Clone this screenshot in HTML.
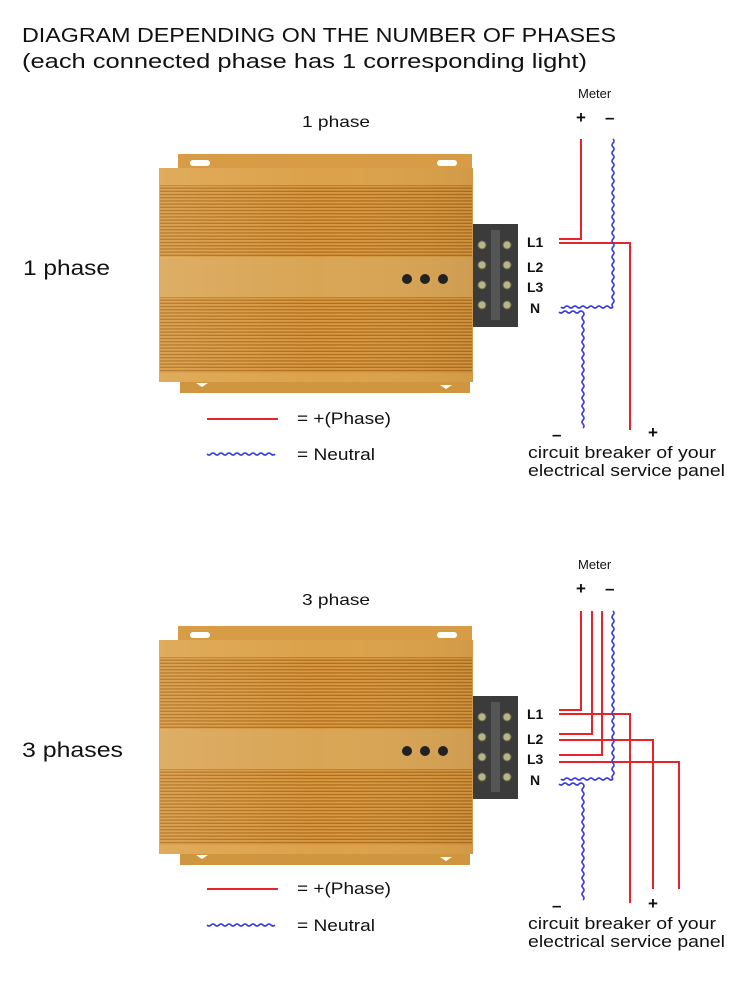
<!DOCTYPE html>
<html><head><meta charset="utf-8"><style>
html,body{margin:0;padding:0;background:#fff;}
svg{display:block;}
text{font-family:"Liberation Sans",Arial,sans-serif;fill:#111;}
</style></head><body>
<svg width="750" height="994" viewBox="0 0 750 994" xmlns="http://www.w3.org/2000/svg">
<defs>
<pattern id="rib" width="8" height="3.2" patternUnits="userSpaceOnUse">
<rect width="8" height="3.2" fill="#d8993f"/>
<rect y="1.9" width="8" height="1.3" fill="#b06f1f"/>
</pattern>
<linearGradient id="shade" x1="0" x2="1" y1="0" y2="0">
<stop offset="0" stop-color="#fff" stop-opacity="0.10"/>
<stop offset="0.5" stop-color="#fff" stop-opacity="0"/>
<stop offset="1" stop-color="#000" stop-opacity="0.05"/>
</linearGradient>
<g id="dev">
<rect x="178" y="154" width="294" height="16" fill="#d79c45"/>
<path d="M193 160 h14 a3 3 0 0 1 0 6 h-14 a3 3 0 0 1 0 -6z" fill="#fff"/>
<path d="M440 160 h14 a3 3 0 0 1 0 6 h-14 a3 3 0 0 1 0 -6z" fill="#fff"/>
<rect x="159" y="168" width="314" height="214" fill="#dca24a"/>
<rect x="160" y="185" width="312" height="72" fill="url(#rib)"/>
<rect x="160" y="297" width="312" height="76" fill="url(#rib)"/>
<rect x="160" y="257" width="312" height="40" fill="#d9a555"/>
<rect x="159" y="168" width="314" height="214" fill="url(#shade)"/>
<rect x="180" y="382" width="290" height="11" fill="#d0963f"/>
<path d="M196 383 h12 l-6 4z" fill="#fff"/>
<path d="M440 385 h12 l-6 4z" fill="#fff"/>
<circle cx="407" cy="279" r="5" fill="#222"/>
<circle cx="425" cy="279" r="5" fill="#222"/>
<circle cx="443" cy="279" r="5" fill="#222"/>
<rect x="473" y="224" width="45" height="103" fill="#3b3b3b"/>
<rect x="491" y="230" width="9" height="90" fill="#555"/>
<g fill="#b7b58a" stroke="#6b6a40" stroke-width="1">
<circle cx="482" cy="245" r="4"/><circle cx="507" cy="245" r="4"/>
<circle cx="482" cy="265" r="4"/><circle cx="507" cy="265" r="4"/>
<circle cx="482" cy="285" r="4"/><circle cx="507" cy="285" r="4"/>
<circle cx="482" cy="305" r="4"/><circle cx="507" cy="305" r="4"/>
</g>
</g>
</defs>

<text x="22" y="42" font-size="20" textLength="594" lengthAdjust="spacingAndGlyphs">DIAGRAM DEPENDING ON THE NUMBER OF PHASES</text>
<text x="22" y="68" font-size="20" textLength="565" lengthAdjust="spacingAndGlyphs">(each connected phase has 1 corresponding light)</text>

<!-- diagram 1 -->
<text x="302" y="127" font-size="16" textLength="68" lengthAdjust="spacingAndGlyphs">1 phase</text>
<use href="#dev"/>
<text x="23" y="275" font-size="21" textLength="87" lengthAdjust="spacingAndGlyphs">1 phase</text>
<text x="578" y="98" font-size="13" fill="#333">Meter</text>
<text x="576" y="123" font-size="17" font-weight="bold">+</text>
<text x="605" y="123" font-size="17" font-weight="bold">–</text>
<g font-size="14" font-weight="bold">
<text x="527" y="247">L1</text><text x="527" y="272">L2</text><text x="527" y="292">L3</text><text x="530" y="313">N</text>
</g>
<g stroke="#e8232a" stroke-width="2" fill="none">
<path d="M581 139 V239 H559"/>
<path d="M559 243 H630 V430"/>
<path d="M207 419 H278"/>
</g>
<g stroke="#3a3ae8" stroke-width="1.6" fill="none">
<path data-w="v" d="M613 139 V307"/>
<path data-w="h" d="M613 307 H559"/>
<path data-w="h" d="M559 312 H583"/>
<path data-w="v" d="M583 312 V430"/>
<path data-w="h" d="M207 454 H277"/>
</g>
<text x="552" y="440" font-size="17" font-weight="bold">–</text>
<text x="648" y="438" font-size="17" font-weight="bold">+</text>
<text x="528" y="458" font-size="17" textLength="188" lengthAdjust="spacingAndGlyphs">circuit breaker of your</text>
<text x="528" y="476" font-size="17" textLength="197" lengthAdjust="spacingAndGlyphs">electrical service panel</text>
<text x="297" y="424" font-size="17" textLength="94" lengthAdjust="spacingAndGlyphs">= +(Phase)</text>
<text x="297" y="460" font-size="17" textLength="78" lengthAdjust="spacingAndGlyphs">= Neutral</text>

<!-- diagram 2 -->
<text x="302" y="605" font-size="16" textLength="68" lengthAdjust="spacingAndGlyphs">3 phase</text>
<use href="#dev" transform="translate(0,472)"/>
<text x="22" y="757" font-size="21" textLength="101" lengthAdjust="spacingAndGlyphs">3 phases</text>
<text x="578" y="569" font-size="13" fill="#333">Meter</text>
<text x="576" y="594" font-size="17" font-weight="bold">+</text>
<text x="605" y="594" font-size="17" font-weight="bold">–</text>
<g font-size="14" font-weight="bold">
<text x="527" y="719">L1</text><text x="527" y="744">L2</text><text x="527" y="764">L3</text><text x="530" y="785">N</text>
</g>
<g stroke="#e8232a" stroke-width="2" fill="none">
<path d="M581 611 V710 H559"/>
<path d="M592 611 V734 H559"/>
<path d="M602 611 V755 H559"/>
<path d="M559 714 H630 V903"/>
<path d="M559 740 H653 V889"/>
<path d="M559 762 H679 V889"/>
<path d="M207 889 H278"/>
</g>
<g stroke="#3a3ae8" stroke-width="1.6" fill="none">
<path data-w="v" d="M613 611 V779"/>
<path data-w="h" d="M613 779 H559"/>
<path data-w="h" d="M559 784 H583"/>
<path data-w="v" d="M583 784 V901"/>
<path data-w="h" d="M207 925 H277"/>
</g>
<text x="552" y="911" font-size="17" font-weight="bold">–</text>
<text x="648" y="909" font-size="17" font-weight="bold">+</text>
<text x="528" y="929" font-size="17" textLength="188" lengthAdjust="spacingAndGlyphs">circuit breaker of your</text>
<text x="528" y="947" font-size="17" textLength="197" lengthAdjust="spacingAndGlyphs">electrical service panel</text>
<text x="297" y="894" font-size="17" textLength="94" lengthAdjust="spacingAndGlyphs">= +(Phase)</text>
<text x="297" y="931" font-size="17" textLength="78" lengthAdjust="spacingAndGlyphs">= Neutral</text>
</svg>
<script>
document.querySelectorAll('path[data-w]').forEach(function(p){
  var d=p.getAttribute('d').match(/-?\d+(\.\d+)?/g).map(Number);
  var x=d[0],y=d[1],e=d[2],s='M'+x+' '+y,vert=p.getAttribute('data-w')=='v';
  var a=vert?y:x,dir=e>a?1:-1,n=Math.floor(Math.abs(e-a)/4),sg=1;
  for(var i=0;i<n;i++){
    if(vert) s+=' q'+(2*sg)+' '+(2*dir)+' 0 '+(4*dir);
    else s+=' q'+(2*dir)+' '+(2*sg)+' '+(4*dir)+' 0';
    sg=-sg;
  }
  p.setAttribute('d',s);
});
</script>
</body></html>
